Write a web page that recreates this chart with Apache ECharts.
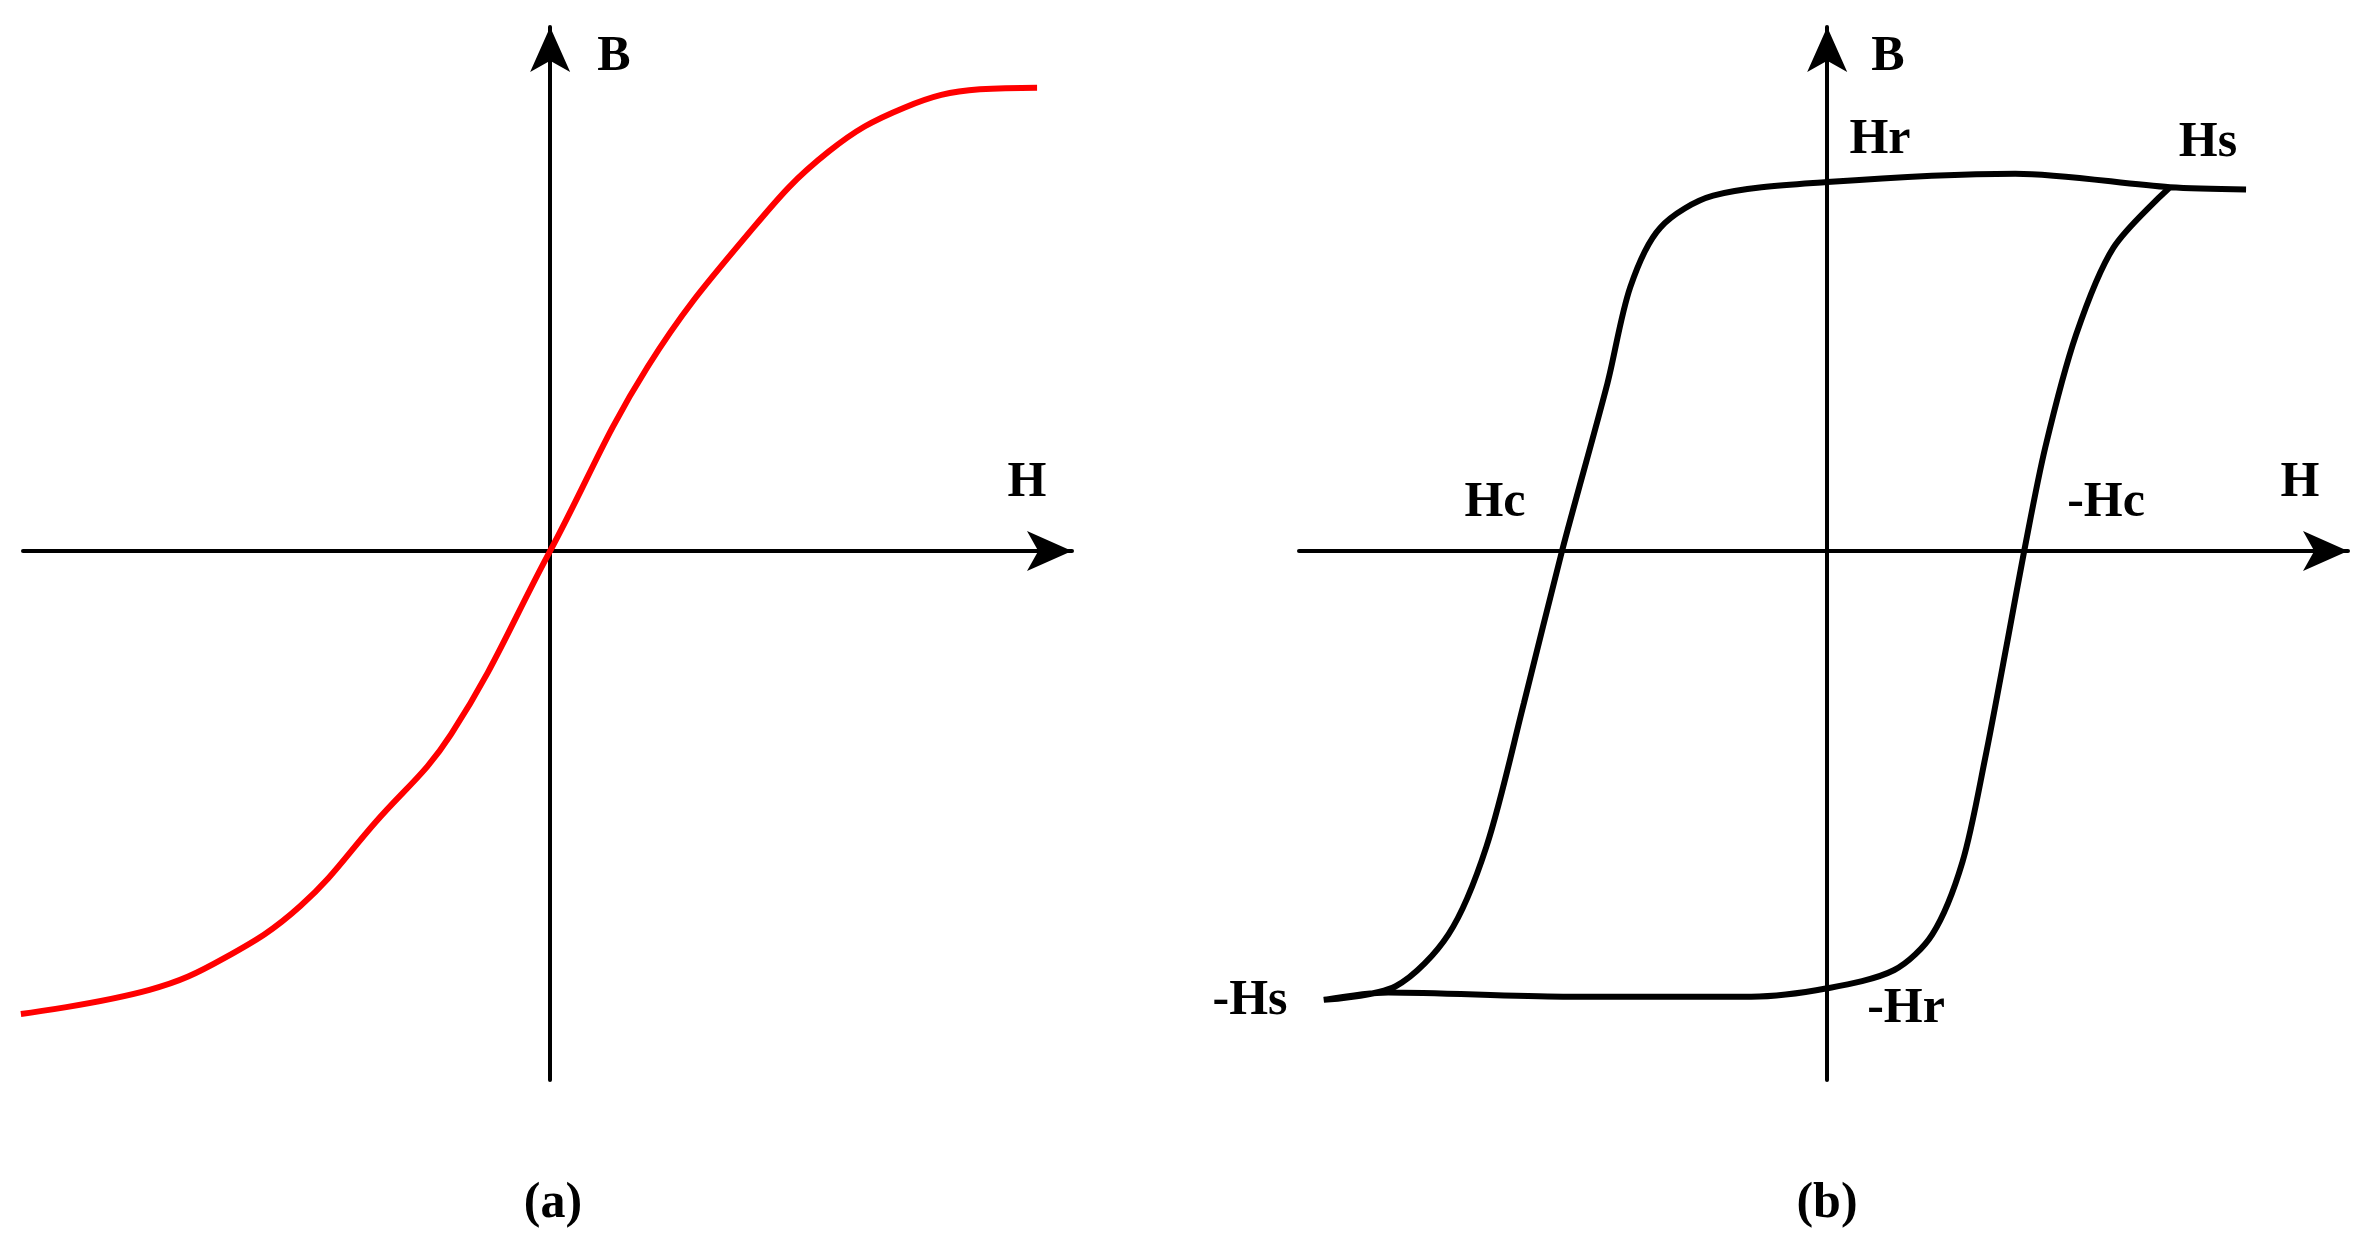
<!DOCTYPE html>
<html>
<head>
<meta charset="utf-8">
<script src="https://cdn.jsdelivr.net/npm/echarts@6/dist/echarts.min.js"></script>
<style>html,body{margin:0;background:#fff}#c{width:2368px;height:1247px}</style>
</head>
<body>
<div id="c"></div>
<script>
// (a) anhysteretic curve: [H, B] normalised
const curveA = [
  [-1, -0.884], [-0.757, -0.838], [-0.615, -0.777], [-0.472, -0.678], [-0.33, -0.518],
  [-0.187, -0.35], [0, 0], [0.184, 0.351], [0.384, 0.617], [0.526, 0.762],
  [0.669, 0.846], [0.812, 0.881], [0.92, 0.884]
];
// (b) hysteresis loop, traced from the tail past Hs round to Hs again
const loopB = [
  [0.793, 0.69], [0.649, 0.694], [0.356, 0.72], [0, 0.704], [-0.216, 0.678],
  [-0.316, 0.617], [-0.373, 0.503], [-0.416, 0.32], [-0.502, 0], [-0.574, -0.29],
  [-0.645, -0.564], [-0.717, -0.732], [-0.817, -0.831], [-0.953, -0.857],
  [-0.831, -0.843], [-0.5, -0.851], [-0.144, -0.851], [0, -0.835], [0.127, -0.8],
  [0.199, -0.732], [0.256, -0.594], [0.299, -0.396], [0.342, -0.168], [0.373, 0],
  [0.413, 0.198], [0.471, 0.412], [0.542, 0.579], [0.649, 0.694]
];
const labelsA = [['B', 614, 57], ['H', 1027, 483], ['(a)', 553, 1204]];
const labelsB = [['B', 1888, 57], ['Hr', 1880, 140], ['Hs', 2208, 143], ['H', 2300, 483],
  ['Hc', 1495, 503], ['-Hc', 2106, 503], ['-Hs', 1250, 1001], ['-Hr', 1906, 1009], ['(b)', 1827, 1204]];

const chart = echarts.init(document.getElementById('c'));

function xAxis(idx, min, max) {
  return {
    type: 'value', gridIndex: idx, min, max,
    axisLine: { onZero: true, symbol: ['none', 'arrow'], symbolSize: [30, 45],
      lineStyle: { color: '#000', width: 4 } },
    axisTick: { show: false }, axisLabel: { show: false }, splitLine: { show: false }
  };
}
function yAxis(idx) {
  return {
    type: 'value', gridIndex: idx, min: -1.01, max: 1.0,
    axisLine: { onZero: true, symbol: ['none', 'arrow'], symbolSize: [30, 45],
      lineStyle: { color: '#000', width: 4 } },
    axisTick: { show: false }, axisLabel: { show: false }, splitLine: { show: false }
  };
}
const texts = labelsA.concat(labelsB).map(([t, x, y]) => ({
  type: 'text', left: x, top: y,
  style: { text: t, x: 0, y: 0, align: 'center', verticalAlign: 'middle',
    font: 'bold 50px "Liberation Serif"', fill: '#000' }
})).map(g => {
  // center the text on its point
  const s = g.style; return { type: 'text', x: g.left, y: g.top, style: s };
});

chart.setOption({
  animation: false,
  grid: [
    { left: 23, width: 1049, top: 27, height: 1053 },
    { left: 1299, width: 1049, top: 27, height: 1053 }
  ],
  xAxis: [xAxis(0, -0.996, 0.986), xAxis(1, -1.0, 0.986)],
  yAxis: [yAxis(0), yAxis(1)],
  series: [
    { type: 'line', xAxisIndex: 0, yAxisIndex: 0, data: curveA, smooth: 0.4,
      showSymbol: false, lineStyle: { color: '#ff0000', width: 6 } },
    { type: 'line', xAxisIndex: 1, yAxisIndex: 1, data: loopB, smooth: 0.3,
      showSymbol: false, lineStyle: { color: '#000', width: 6 } }
  ],
  graphic: texts
});
</script>
</body>
</html>
